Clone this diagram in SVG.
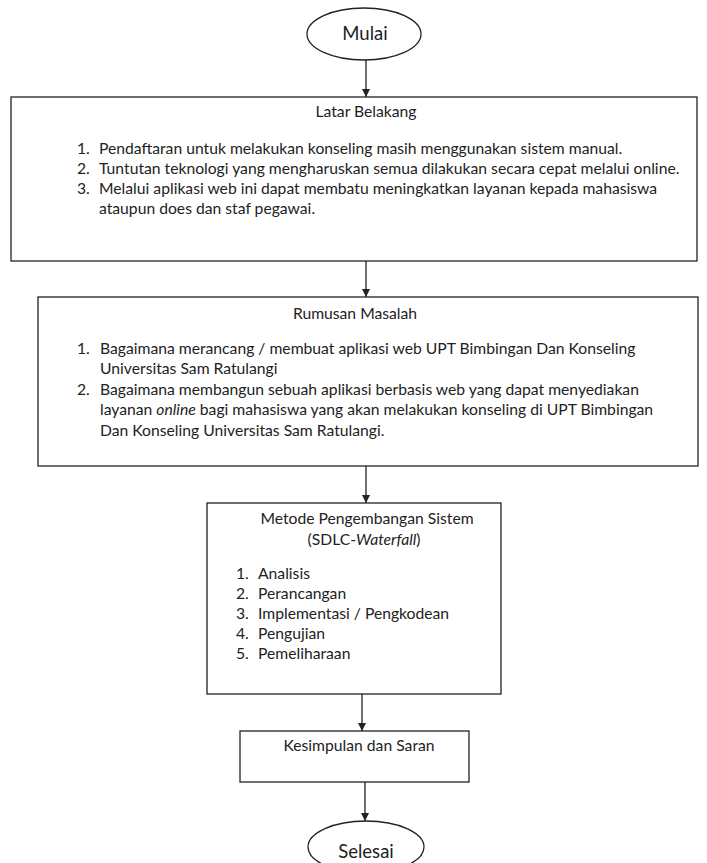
<svg xmlns="http://www.w3.org/2000/svg" width="707" height="863" viewBox="0 0 707 863">
<style>
.box{fill:#fff;stroke:#222;stroke-width:1.3}
.t{font-family:Lato,"Open Sans","Liberation Sans",sans-serif;font-size:15.7px;fill:#222}
.c{text-anchor:middle}
.big{font-size:18.5px}
.ln{stroke:#222;stroke-width:1.3;fill:none}
</style>
<defs>
<marker id="ah" markerWidth="8" markerHeight="8" refX="8" refY="4" orient="auto" markerUnits="userSpaceOnUse">
<path d="M0,0 L8,4 L0,8 Z" fill="#222"/>
</marker>
</defs>
<rect width="707" height="863" fill="#fff"/>
<g id="connectors">
<line class="ln" x1="366" y1="60" x2="366" y2="97" marker-end="url(#ah)"/>
<line class="ln" x1="366" y1="261" x2="366" y2="297" marker-end="url(#ah)"/>
<line class="ln" x1="366" y1="466" x2="366" y2="503" marker-end="url(#ah)"/>
<line class="ln" x1="362" y1="694" x2="362" y2="731" marker-end="url(#ah)"/>
<line class="ln" x1="365" y1="782" x2="365" y2="821" marker-end="url(#ah)"/>
</g>
<g id="mulai">
<ellipse class="box" cx="364" cy="34" rx="57" ry="26"/>
<text class="t c big" x="365" y="40">Mulai</text>
</g>
<g id="latar">
<rect class="box" x="11" y="97" width="686" height="164"/>
<text class="t c" x="366" y="117">Latar Belakang</text>
<text class="t" x="77" y="154">1.</text>
<text class="t" x="99" y="154">Pendaftaran untuk melakukan konseling masih menggunakan sistem manual.</text>
<text class="t" x="77" y="174">2.</text>
<text class="t" x="99" y="174">Tuntutan teknologi yang mengharuskan semua dilakukan secara cepat melalui online.</text>
<text class="t" x="77" y="194">3.</text>
<text class="t" x="99" y="194">Melalui aplikasi web ini dapat membatu meningkatkan layanan kepada mahasiswa</text>
<text class="t" x="99" y="214">ataupun does dan staf pegawai.</text>
</g>
<g id="rumusan">
<rect class="box" x="38" y="297" width="660" height="169"/>
<text class="t c" x="355" y="319">Rumusan Masalah</text>
<text class="t" x="77" y="354">1.</text>
<text class="t" x="100" y="354">Bagaimana merancang / membuat aplikasi web UPT Bimbingan Dan Konseling</text>
<text class="t" x="100" y="374">Universitas Sam Ratulangi</text>
<text class="t" x="77" y="395">2.</text>
<text class="t" x="100" y="395">Bagaimana membangun sebuah aplikasi berbasis web yang dapat menyediakan</text>
<text class="t" x="100" y="415">layanan <tspan font-style="italic">online</tspan> bagi mahasiswa yang akan melakukan konseling di UPT Bimbingan</text>
<text class="t" x="100" y="436">Dan Konseling Universitas Sam Ratulangi.</text>
</g>
<g id="metode">
<rect class="box" x="207" y="503" width="294" height="191"/>
<text class="t c" x="367" y="524">Metode Pengembangan Sistem</text>
<text class="t c" x="364" y="545">(SDLC-<tspan font-style="italic">Waterfall</tspan>)</text>
<text class="t" x="236" y="579">1.</text><text class="t" x="258" y="579">Analisis</text>
<text class="t" x="236" y="599">2.</text><text class="t" x="258" y="599">Perancangan</text>
<text class="t" x="236" y="619">3.</text><text class="t" x="258" y="619">Implementasi / Pengkodean</text>
<text class="t" x="236" y="639">4.</text><text class="t" x="258" y="639">Pengujian</text>
<text class="t" x="236" y="659">5.</text><text class="t" x="258" y="659">Pemeliharaan</text>
</g>
<g id="kesimpulan">
<rect class="box" x="240" y="731" width="229" height="51"/>
<text class="t c" x="359" y="751">Kesimpulan dan Saran</text>
</g>
<g id="selesai">
<ellipse class="box" cx="366" cy="847" rx="58" ry="26"/>
<text class="t c big" x="366" y="858">Selesai</text>
</g>
</svg>
